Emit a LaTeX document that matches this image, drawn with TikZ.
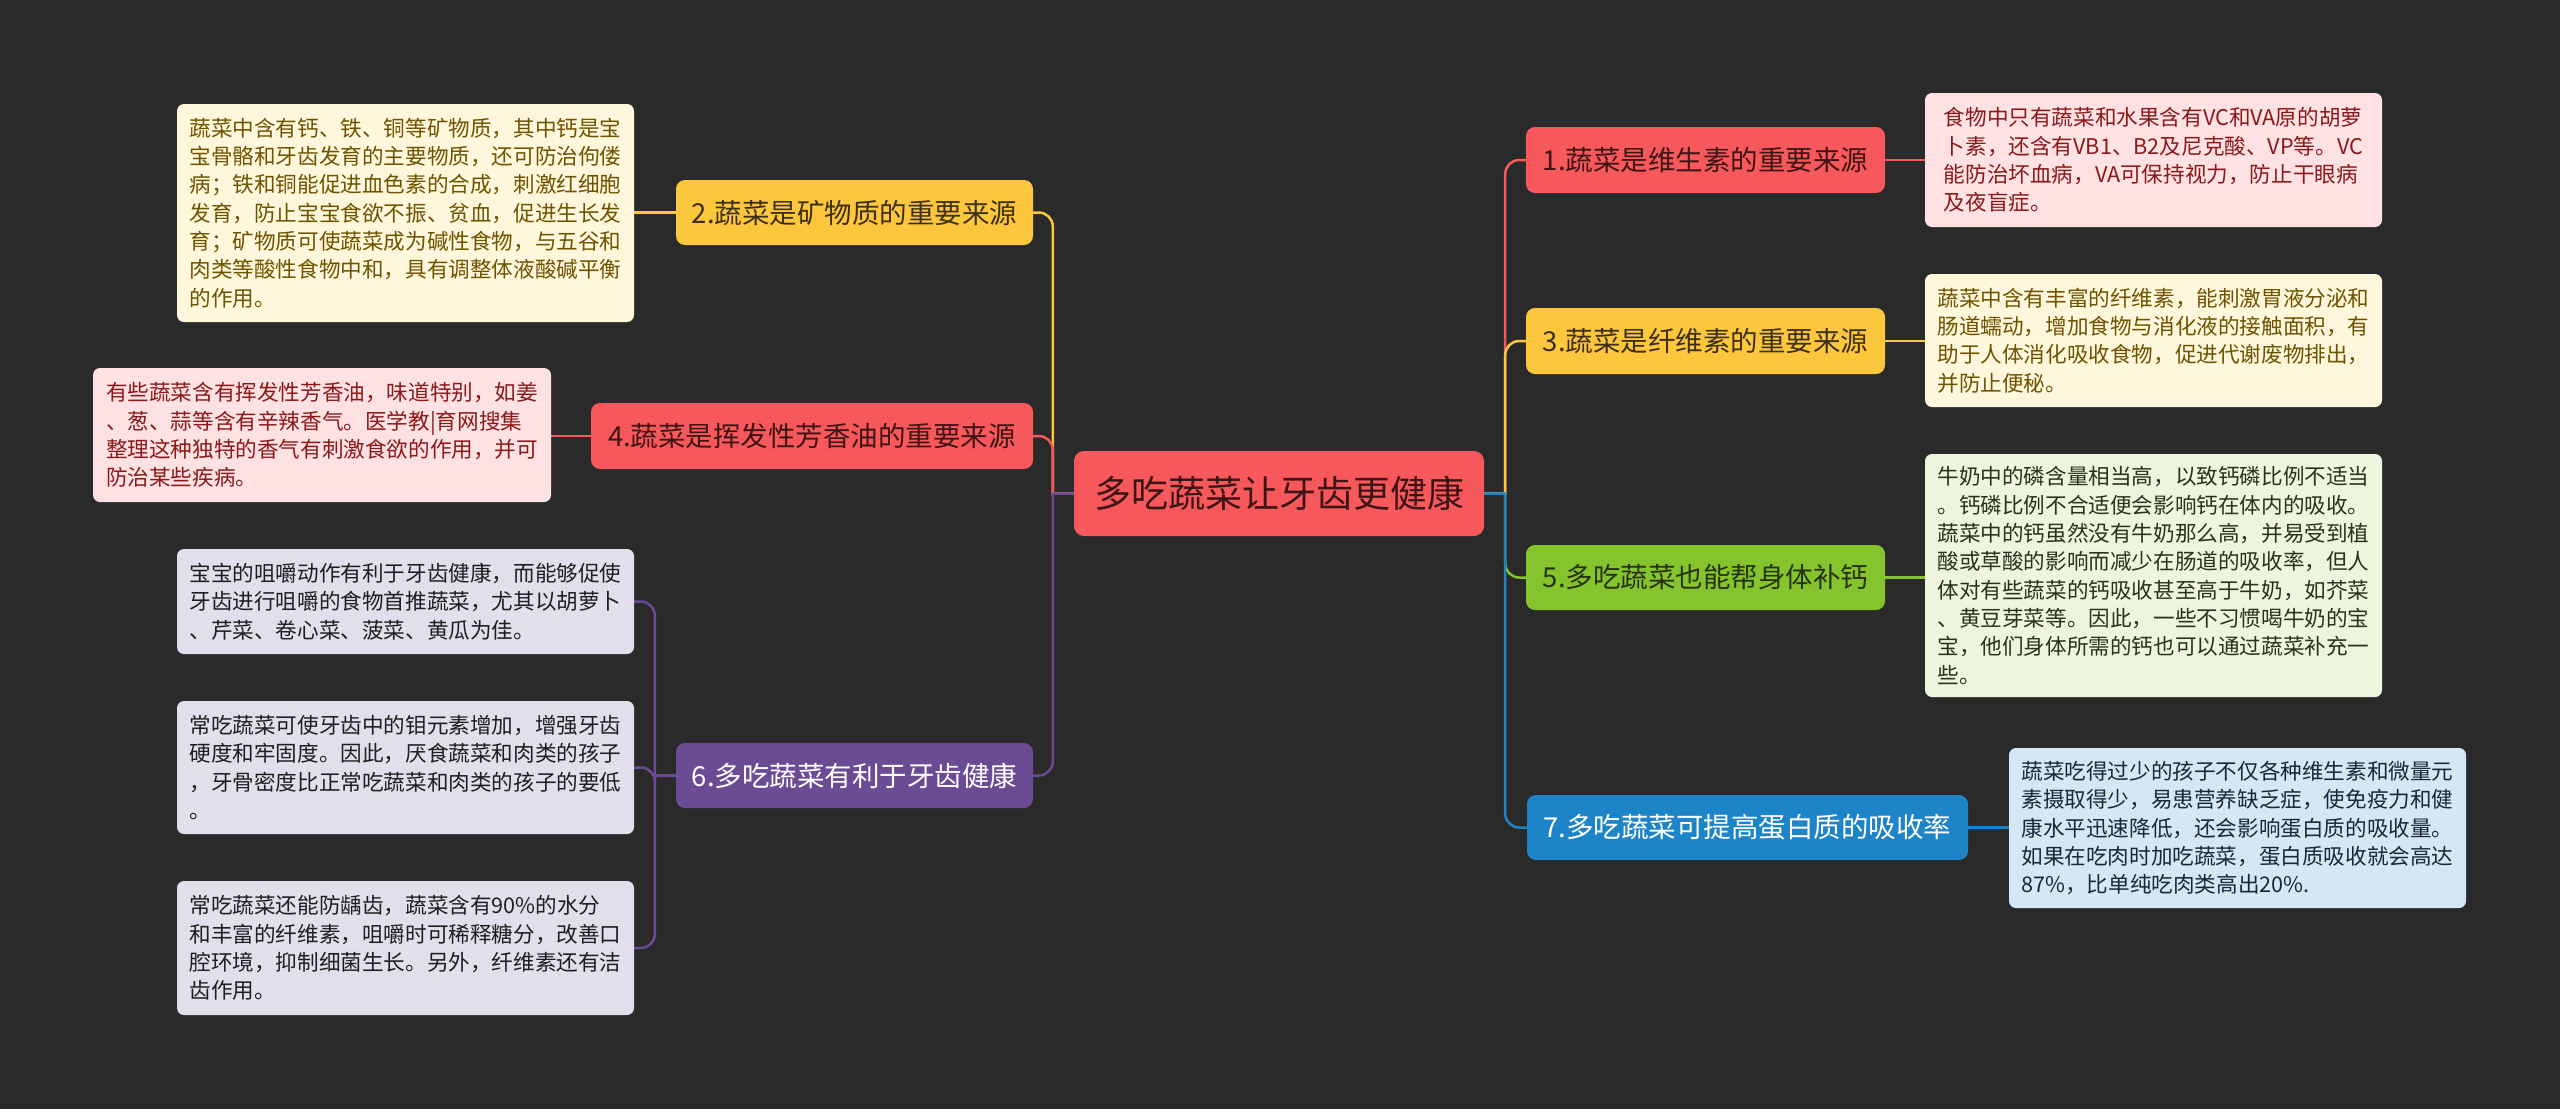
\documentclass[tikz,border=0pt]{standalone}
\usepackage{fontspec}
\setmainfont{Noto Sans CJK SC}
\pgfdeclarelayer{back}
\pgfdeclarelayer{lines}
\pgfsetlayers{back,lines,main}
\definecolor{bgc}{HTML}{2A2A2A}
\definecolor{cR}{HTML}{F7585C}
\definecolor{cY}{HTML}{FDC73D}
\definecolor{cG}{HTML}{86C42E}
\definecolor{cP}{HTML}{6A4B94}
\definecolor{cB}{HTML}{1E84C8}
\definecolor{tR}{HTML}{3E1414}
\definecolor{tY}{HTML}{3E3016}
\definecolor{tG}{HTML}{26330F}
\definecolor{fR}{HTML}{FDE1E3}
\definecolor{fY}{HTML}{FFF7DC}
\definecolor{fG}{HTML}{EDF5DE}
\definecolor{fP}{HTML}{E2DEEB}
\definecolor{fB}{HTML}{D5E7F4}
\definecolor{lR}{HTML}{8A1A1A}
\definecolor{lY}{HTML}{6E5300}
\definecolor{lG}{HTML}{27331A}
\definecolor{lP}{HTML}{1E1E1E}
\definecolor{lB}{HTML}{18283A}
\tikzset{
  brnode/.style={rounded corners=9pt, inner sep=0pt, align=center, minimum height=65pt,
    font=\fontsize{27.5}{30}\selectfont},
  leafnode/.style={rounded corners=7pt, inner sep=0pt, align=left, minimum width=457pt,
    font=\fontsize{21.6}{28.3}\selectfont},
  conn/.style={line width=2.5pt},
}
\begin{document}
\begin{tikzpicture}[x=1pt,y=-1pt]
\begin{pgfonlayer}{back}
\fill[bgc] (0,0) rectangle (2560,1109);
\end{pgfonlayer}
\useasboundingbox (0,0) rectangle (2560,1109);

% center
\node[rounded corners=10pt, inner sep=0pt, minimum width=410pt, minimum height=85pt,
  fill=cR, text=tR, font=\fontsize{37}{40}\selectfont] (ctr) at (1279,493.5) {多吃蔬菜让牙齿更健康};

% left branches
\node[brnode, fill=cY, text=tY, minimum width=357pt] (b2) at (854.5,212.5) {2.蔬菜是矿物质的重要来源};
\node[brnode, fill=cR, text=tR, minimum width=442pt, minimum height=66pt] (b4) at (812,436) {4.蔬菜是挥发性芳香油的重要来源};
\node[brnode, fill=cP, text=white, minimum width=357pt] (b6) at (854.5,775.5) {6.多吃蔬菜有利于牙齿健康};

% right branches
\node[brnode, fill=cR, text=tR, minimum width=359pt, minimum height=66pt] (b1) at (1705.5,160) {1.蔬菜是维生素的重要来源};
\node[brnode, fill=cY, text=tY, minimum width=359pt, minimum height=66pt] (b3) at (1705.5,341) {3.蔬菜是纤维素的重要来源};
\node[brnode, fill=cG, text=tG, minimum width=359pt] (b5) at (1705.5,577.5) {5.多吃蔬菜也能帮身体补钙};
\node[brnode, fill=cB, text=white, minimum width=441pt] (b7) at (1747.5,827.5) {7.多吃蔬菜可提高蛋白质的吸收率};

% left leaves
\node[leafnode, fill=fY, text=lY, minimum height=218pt] (l2) at (405.5,213) {蔬菜中含有钙、铁、铜等矿物质，其中钙是宝\\宝骨骼和牙齿发育的主要物质，还可防治佝偻\\病；铁和铜能促进血色素的合成，刺激红细胞\\发育，防止宝宝食欲不振、贫血，促进生长发\\育；矿物质可使蔬菜成为碱性食物，与五谷和\\肉类等酸性食物中和，具有调整体液酸碱平衡\\的作用。};
\node[leafnode, fill=fR, text=lR, minimum width=458pt, minimum height=134pt] (l4) at (322,435) {有些蔬菜含有挥发性芳香油，味道特别，如姜\\、葱、蒜等含有辛辣香气。医学教|育网搜集\\整理这种独特的香气有刺激食欲的作用，并可\\防治某些疾病。};
\node[leafnode, fill=fP, text=lP, minimum height=105pt] (l6a) at (405.5,601.5) {宝宝的咀嚼动作有利于牙齿健康，而能够促使\\牙齿进行咀嚼的食物首推蔬菜，尤其以胡萝卜\\、芹菜、卷心菜、菠菜、黄瓜为佳。};
\node[leafnode, fill=fP, text=lP, minimum height=133pt] (l6b) at (405.5,767.5) {常吃蔬菜可使牙齿中的钼元素增加，增强牙齿\\硬度和牢固度。因此，厌食蔬菜和肉类的孩子\\，牙骨密度比正常吃蔬菜和肉类的孩子的要低\\。};
\node[leafnode, fill=fP, text=lP, minimum height=134pt] (l6c) at (405.5,948) {常吃蔬菜还能防龋齿，蔬菜含有90\%的水分\\和丰富的纤维素，咀嚼时可稀释糖分，改善口\\腔环境，抑制细菌生长。另外，纤维素还有洁\\齿作用。};

% right leaves
\node[leafnode, fill=fR, text=lR, minimum height=134pt] (l1) at (2153.5,160) {食物中只有蔬菜和水果含有VC和VA原的胡萝\\卜素，还含有VB1、B2及尼克酸、VP等。VC\\能防治坏血病，VA可保持视力，防止干眼病\\及夜盲症。};
\node[leafnode, fill=fY, text=lY, minimum height=133pt] (l3) at (2153.5,340.5) {蔬菜中含有丰富的纤维素，能刺激胃液分泌和\\肠道蠕动，增加食物与消化液的接触面积，有\\助于人体消化吸收食物，促进代谢废物排出，\\并防止便秘。};
\node[leafnode, fill=fG, text=lG, minimum height=243pt] (l5) at (2153.5,575.5) {牛奶中的磷含量相当高，以致钙磷比例不适当\\。钙磷比例不合适便会影响钙在体内的吸收。\\蔬菜中的钙虽然没有牛奶那么高，并易受到植\\酸或草酸的影响而减少在肠道的吸收率，但人\\体对有些蔬菜的钙吸收甚至高于牛奶，如芥菜\\、黄豆芽菜等。因此，一些不习惯喝牛奶的宝\\宝，他们身体所需的钙也可以通过蔬菜补充一\\些。};
\node[leafnode, fill=fB, text=lB, minimum height=160pt] (l7) at (2237.5,828) {蔬菜吃得过少的孩子不仅各种维生素和微量元\\素摄取得少，易患营养缺乏症，使免疫力和健\\康水平迅速降低，还会影响蛋白质的吸收量。\\如果在吃肉时加吃蔬菜，蛋白质吸收就会高达\\87\%，比单纯吃肉类高出20\%.};

% junction points
\coordinate (rj) at ([xshift=21pt]ctr.east);
\coordinate (lj) at ([xshift=-21pt]ctr.west);
\coordinate (pj) at ([xshift=-21pt]b6.west);

\begin{pgfonlayer}{lines}
% center to right branches
\draw[conn, cR] (ctr.east) -- (rj) [rounded corners=14pt] -- (rj |- b1.west) -- (b1.west);
\draw[conn, cY] (ctr.east) -- (rj) [rounded corners=14pt] -- (rj |- b3.west) -- (b3.west);
\draw[conn, cG] (ctr.east) -- (rj) [rounded corners=14pt] -- (rj |- b5.west) -- (b5.west);
\draw[conn, cB] (ctr.east) -- (rj) [rounded corners=14pt] -- (rj |- b7.west) -- (b7.west);
% center to left branches
\draw[conn, cY] (ctr.west) -- (lj) [rounded corners=14pt] -- (lj |- b2.east) -- (b2.east);
\draw[conn, cR] (ctr.west) -- (lj) [rounded corners=14pt] -- (lj |- b4.east) -- (b4.east);
\draw[conn, cP] (ctr.west) -- (lj) [rounded corners=14pt] -- (lj |- b6.east) -- (b6.east);
% branches to leaves
\draw[conn, cR] (b1.east) -- (b1.east -| l1.west);
\draw[conn, cY] (b3.east) -- (b3.east -| l3.west);
\draw[conn, cG] (b5.east) -- (b5.east -| l5.west);
\draw[conn, cB] (b7.east) -- (b7.east -| l7.west);
\draw[conn, cY] (b2.west) -- (b2.west -| l2.east);
\draw[conn, cR] (b4.west) -- (b4.west -| l4.east);
\draw[conn, cP] (b6.west) -- (pj) [rounded corners=14pt] -- (pj |- l6a.east) -- (l6a.east);
\draw[conn, cP] (b6.west) -- (pj) [rounded corners=14pt] -- (pj |- l6b.east) -- (l6b.east);
\draw[conn, cP] (b6.west) -- (pj) [rounded corners=14pt] -- (pj |- l6c.east) -- (l6c.east);
\end{pgfonlayer}
\end{tikzpicture}
\end{document}
